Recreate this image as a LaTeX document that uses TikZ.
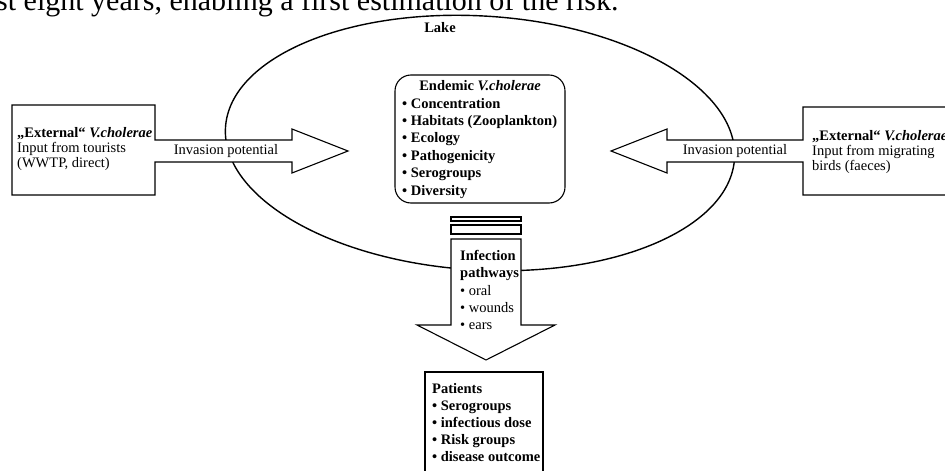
\documentclass[tikz,border=0pt]{standalone}
\usepackage{fontspec}
\setmainfont{Liberation Serif}
\begin{document}
\begin{tikzpicture}[x=1pt,y=-1pt]
\tikzset{
  outline/.style={draw=black, line width=1.1pt, fill=white, line join=miter},
  lakeline/.style={draw=black, line width=1.4pt},
  txt/.style={inner sep=0pt, anchor=base west, font=\fontsize{14.5}{17}\selectfont},
  btxt/.style={txt, font=\bfseries\fontsize{14.5}{17}\selectfont},
}
\useasboundingbox (0,0) rectangle (945,471);
\begin{scope}
\clip (0,0) rectangle (945,471);
% running page text, cut by the top edge
\node[inner sep=0pt, anchor=base west, font=\fontsize{30}{32}\selectfont] (pagetext) at (-4,10) {st eight years, enabling a first estimation of the risk.};
% lake
\draw[lakeline, rotate around={-3.5:(480,143)}] (480,143) ellipse [x radius=255, y radius=127];
\node[inner sep=0pt, font=\bfseries\fontsize{14.5}{17}\selectfont] (lake) at (440,28) {Lake};
% left input arrow
\draw[outline] (12,105) -- (155,105) -- (155,140) -- (292,140) -- (292,129) -- (348,151) -- (292,173) -- (292,162) -- (155,162) -- (155,195) -- (12,195) -- cycle;
\node[btxt] (l1) at (17,137) {„External“ \textit{V.cholerae}};
\node[txt] (l2) at (17,152) {Input from tourists};
\node[txt] (l3) at (17,167) {(WWTP, direct)};
\node[inner sep=0pt, font=\fontsize{14.5}{17}\selectfont] (linv) at (226,151) {Invasion potential};
% right input arrow
\draw[outline] (611,151) -- (667,129) -- (667,140) -- (803,140) -- (803,107) -- (960,107) -- (960,195) -- (803,195) -- (803,162) -- (667,162) -- (667,173) -- cycle;
\node[btxt] (r1) at (812,140) {„External“ \textit{V.cholerae}};
\node[txt] (r2) at (812,155) {Input from migrating};
\node[txt] (r3) at (812,170) {birds (faeces)};
\node[inner sep=0pt, font=\fontsize{14.5}{17}\selectfont] (rinv) at (735,151) {Invasion potential};
% endemic box
\draw[outline, rounded corners=16pt] (395,75) rectangle (565,203);
\node[inner sep=0pt, anchor=base, font=\bfseries\fontsize{14.5}{17}\selectfont] (e0) at (480,90) {Endemic \textit{V.cholerae}};
\node[btxt] (e1) at (402,108) {• Concentration};
\node[btxt] (e2) at (402,125.4) {• Habitats (Zooplankton)};
\node[btxt] (e3) at (402,142.8) {• Ecology};
\node[btxt] (e4) at (402,160.2) {• Pathogenicity};
\node[btxt] (e5) at (402,177.6) {• Serogroups};
\node[btxt] (e6) at (402,195) {• Diversity};
% bars and down arrow
\draw[outline] (451,217) rectangle (521,221);
\draw[outline] (451,225) rectangle (521,234);
\draw[outline] (451,239) -- (521,239) -- (521,325) -- (555,325) -- (486,360) -- (417,325) -- (451,325) -- cycle;
\node[btxt] (i1) at (460,260) {Infection};
\node[btxt] (i2) at (460,277) {pathways};
\node[txt] (i3) at (460,295) {• oral};
\node[txt] (i4) at (460,312) {• wounds};
\node[txt] (i5) at (460,329) {• ears};
% patients
\draw[outline] (425,372) rectangle (543,490);
\node[btxt] (p1) at (432,393) {Patients};
\node[btxt] (p2) at (432,410) {• Serogroups};
\node[btxt] (p3) at (432,427) {• infectious dose};
\node[btxt] (p4) at (432,444) {• Risk groups};
\node[btxt] (p5) at (432,461) {• disease outcome};
\end{scope}
\end{tikzpicture}
\end{document}
